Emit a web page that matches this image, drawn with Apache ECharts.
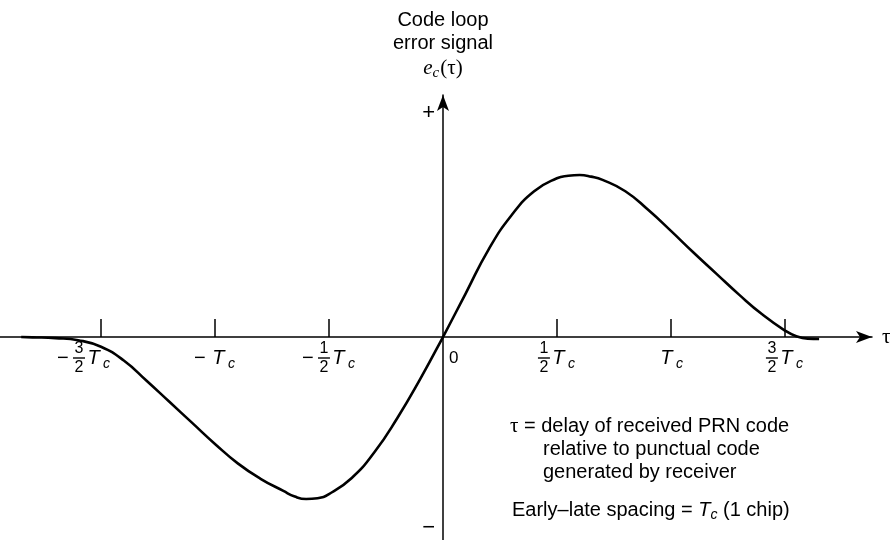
<!DOCTYPE html>
<html>
<head>
<meta charset="utf-8">
<script src="https://cdn.jsdelivr.net/npm/echarts@6/dist/echarts.min.js"></script>
<style>
  html, body { margin: 0; padding: 0; background: #fff; }
  #chart { width: 896px; height: 540px; }
</style>
</head>
<body>
<div id="chart"></div>
<script>
// Code delay tau, in chips (T_c)
const tau = [
  -1.85, -1.8, -1.7, -1.6, -1.5, -1.4, -1.3, -1.2, -1.1, -1.0,
  -0.9, -0.8, -0.7, -0.65, -0.6, -0.55, -0.5, -0.4, -0.3, -0.2, -0.1, 0,
  0.1, 0.2, 0.3, 0.4, 0.5, 0.55, 0.6, 0.65, 0.7, 0.8, 0.9, 1.0,
  1.1, 1.2, 1.3, 1.4, 1.5, 1.55, 1.6, 1.65
];
// Early-minus-late code loop error signal e_c(tau), peak normalised to 1
const errorSignal = [
  0, -0.002, -0.007, -0.02, -0.06, -0.145, -0.27, -0.40, -0.53, -0.66,
  -0.78, -0.875, -0.95, -0.985, -1.0, -0.995, -0.97, -0.87, -0.71, -0.50, -0.26, 0,
  0.27, 0.54, 0.75, 0.90, 0.98, 0.995, 1.0, 0.99, 0.97, 0.90, 0.785, 0.655,
  0.52, 0.39, 0.26, 0.14, 0.04, 0.005, -0.01, -0.012
];

// Horizontal axis ticks and their labels (sign, numerator, denominator)
const tickValues = [-1.5, -1, -0.5, 0.5, 1, 1.5];
const labelValues = [-1.5, -1, -0.5, 0, 0.5, 1, 1.5];
const labelSigns = ['−', '−', '−', '', '', '', ''];
const labelNums = ['3', '', '1', '', '1', '', '3'];
const labelDens = ['2', '', '2', '', '2', '', '2'];

// Vertical axis polarity marks
const signLevels = [1.383, -1.179];
const signLabels = ['+', '−'];

const SANS = '"Liberation Sans", Arial, Helvetica, sans-serif';
const SERIF = '"Liberation Serif", "DejaVu Serif", serif';
const NB = '\u00a0';

// Plot geometry: origin of the axes inside the 896x540 canvas
const ORIGIN_X = 443;
const ORIGIN_Y = 337;
const GRID_TOP = 95;
const GRID_RIGHT = 24;
const X_MIN = -1.943, X_MAX = 1.882;
const Y_MIN = -1.253, Y_MAX = 1.494;

function tickLabel(value) {
  const i = labelValues.findIndex(v => Math.abs(v - value) < 1e-6);
  if (i < 0) return '';
  if (value === 0) {
    return '{zs|' + NB + '}\n{z|0}\n{zs|' + NB + '}';
  }
  const sign = labelSigns[i];
  const num = labelNums[i];
  const den = labelDens[i];
  const lead = sign ? '{mb|' + NB + '}' : '';
  const mid = sign ? '{m|' + sign + '}' : '';
  // the outermost label sits a little left of its tick, clear of the curve
  const tail = i === 0 ? '{sh|' + NB + '}' : '';
  if (num) {
    return lead + '{n|' + num + '}{tb|' + NB + '}' + tail + '\n' +
      mid + '{bar|' + NB + '}{T|T}{c|c}' + tail + '\n' +
      lead + '{n|' + den + '}{tb|' + NB + '}' + tail;
  }
  return lead + '{tb|' + NB + '}\n' + mid + '{T|T}{c|c}\n' + lead + '{tb|' + NB + '}';
}

const chart = echarts.init(document.getElementById('chart'), null, { renderer: 'canvas' });

chart.setOption({
  animation: false,
  backgroundColor: '#fff',
  grid: {
    left: 0, right: GRID_RIGHT, top: GRID_TOP, bottom: 0,
    containLabel: false,
    outerBoundsMode: 'none'
  },
  xAxis: {
    type: 'value',
    min: X_MIN,
    max: X_MAX,
    position: 'bottom',
    offset: -(540 - ORIGIN_Y),
    name: 'τ',
    nameLocation: 'end',
    nameGap: 10,
    nameTextStyle: { fontFamily: SERIF, fontSize: 21, color: '#000', verticalAlign: 'middle' },
    axisLine: {
      onZero: false,
      symbol: ['none', 'arrow'],
      symbolSize: [9, 16],
      lineStyle: { color: '#000', width: 1.5 }
    },
    axisTick: {
      show: true,
      inside: true,
      length: 18,
      customValues: tickValues,
      lineStyle: { color: '#000', width: 1.5 }
    },
    axisLabel: {
      show: true,
      margin: 5,
      customValues: labelValues,
      formatter: tickLabel,
      color: '#000',
      fontFamily: SANS,
      rich: {
        m:   { fontFamily: SANS, fontSize: 20, width: 16, align: 'left', lineHeight: 6 },
        mb:  { fontSize: 12, width: 16, lineHeight: 13 },
        n:   { fontFamily: SANS, fontSize: 16, width: 12, align: 'center', lineHeight: 13 },
        bar: { fontSize: 4, width: 12, height: 1.4, lineHeight: 6, backgroundColor: '#000' },
        T:   { fontFamily: SANS, fontSize: 20, fontStyle: 'italic', width: 17, align: 'right', lineHeight: 6 },
        c:   { fontFamily: SANS, fontSize: 14, fontStyle: 'italic', width: 9, align: 'left', lineHeight: 6, padding: [12, 0, 0, 0] },
        tb:  { fontSize: 12, width: 26, lineHeight: 13 },
        sh:  { fontSize: 4, width: 34, lineHeight: 6 },
        z:   { fontFamily: SANS, fontSize: 17, width: 10, align: 'left', lineHeight: 6, padding: [0, 0, 0, 22] },
        zs:  { fontSize: 12, width: 32, lineHeight: 13 }
      }
    },
    splitLine: { show: false }
  },
  yAxis: {
    type: 'value',
    min: Y_MIN,
    max: Y_MAX,
    position: 'left',
    offset: -ORIGIN_X,
    axisLine: {
      onZero: false,
      symbol: ['none', 'arrow'],
      symbolSize: [9, 16],
      lineStyle: { color: '#000', width: 1.5 }
    },
    axisTick: { show: false },
    axisLabel: {
      show: true,
      margin: 8,
      customValues: signLevels,
      formatter: function (v) {
        const i = signLevels.findIndex(s => Math.abs(s - v) < 1e-6);
        return i < 0 ? '' : signLabels[i];
      },
      color: '#000',
      fontFamily: SANS,
      fontSize: 22
    },
    splitLine: { show: false }
  },
  series: [{
    type: 'line',
    data: tau.map((t, i) => [t, errorSignal[i]]),
    smooth: 0.5,
    showSymbol: false,
    lineStyle: { color: '#000', width: 2.6 },
    z: 3
  }],
  graphic: [
    {
      type: 'text', x: 443, y: 20,
      style: { text: 'Code loop', font: '20px ' + SANS, fill: '#000', align: 'center', verticalAlign: 'middle' }
    },
    {
      type: 'text', x: 443, y: 43.5,
      style: { text: 'error signal', font: '20px ' + SANS, fill: '#000', align: 'center', verticalAlign: 'middle' }
    },
    {
      type: 'text', x: 443, y: 68,
      style: {
        text: '{e|e}{s|c}{p|(τ)}',
        align: 'center', verticalAlign: 'middle',
        rich: {
          e: { fontFamily: SERIF, fontSize: 21, fontStyle: 'italic', fill: '#000', lineHeight: 22 },
          s: { fontFamily: SERIF, fontSize: 15, fontStyle: 'italic', fill: '#000', lineHeight: 22, padding: [10, 1, 0, 0] },
          p: { fontFamily: SERIF, fontSize: 21, fill: '#000', lineHeight: 22 }
        }
      }
    },
    {
      type: 'text', x: 510, y: 426.5,
      style: {
        text: '{t|τ} = delay of received PRN code',
        font: '20px ' + SANS, fill: '#000', align: 'left', verticalAlign: 'middle',
        rich: { t: { fontFamily: SERIF, fontSize: 21, fill: '#000' } }
      }
    },
    {
      type: 'text', x: 543, y: 449.5,
      style: { text: 'relative to punctual code', font: '20px ' + SANS, fill: '#000', align: 'left', verticalAlign: 'middle' }
    },
    {
      type: 'text', x: 543, y: 472.5,
      style: { text: 'generated by receiver', font: '20px ' + SANS, fill: '#000', align: 'left', verticalAlign: 'middle' }
    },
    {
      type: 'text', x: 512, y: 510.5,
      style: {
        text: 'Early–late spacing = {T|T}{c|c} (1 chip)',
        font: '20px ' + SANS, fill: '#000', align: 'left', verticalAlign: 'middle',
        rich: {
          T: { fontFamily: SANS, fontSize: 20, fontStyle: 'italic', fill: '#000', lineHeight: 22 },
          c: { fontFamily: SANS, fontSize: 14, fontStyle: 'italic', fill: '#000', lineHeight: 22, padding: [10, 0, 0, 0] }
        }
      }
    }
  ]
});
</script>
</body>
</html>
